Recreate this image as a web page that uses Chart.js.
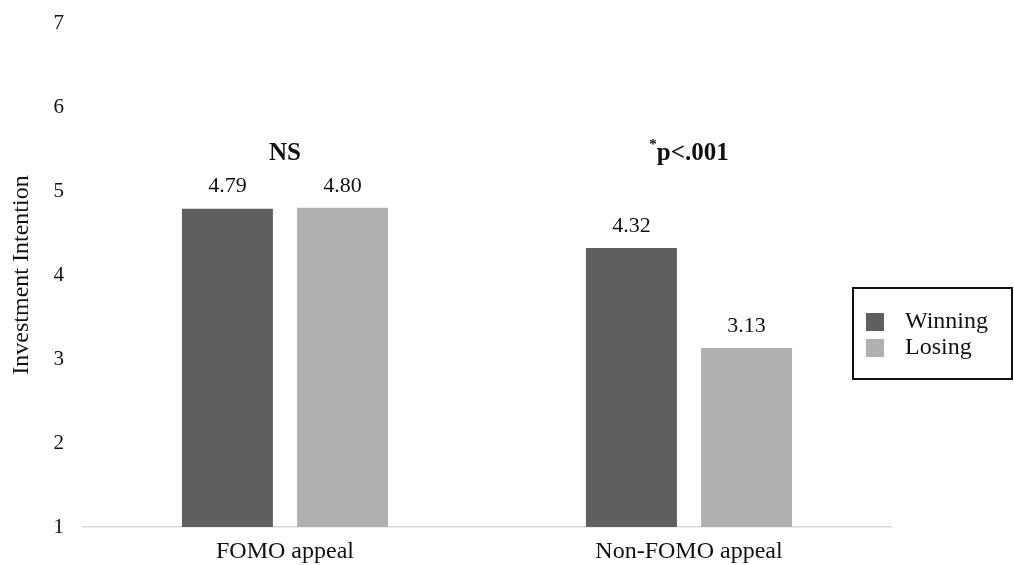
<!DOCTYPE html>
<html>
<head>
<meta charset="utf-8">
<script src="https://cdn.jsdelivr.net/npm/chart.js@4"></script>
<style>
  html, body { margin: 0; padding: 0; background: #fff; }
  #wrap { width: 1014px; height: 565px; position: relative; }
</style>
</head>
<body>
<div id="wrap"><canvas id="graph" width="1014" height="565"></canvas></div>
<script>
// categories and series
var categories = ['FOMO appeal', 'Non-FOMO appeal'];
var winning = [4.79, 4.32];
var losing = [4.80, 3.13];
var seriesNames = ['Winning', 'Losing'];
var significance = ['NS', 'p<.001'];
var sigStar = ['', '*'];
var yTicks = [1, 2, 3, 4, 5, 6, 7];

var SERIF = '"Liberation Serif", "Times New Roman", serif';

// 値ラベル・有意差・凡例を描く
var extras = {
  id: 'extras',
  afterDatasetsDraw: function(chart) {
    var ctx = chart.ctx;
    ctx.save();
    ctx.fillStyle = '#111';
    ctx.textAlign = 'center';
    ctx.textBaseline = 'middle';
    ctx.font = '22px ' + SERIF;
    chart.data.datasets.forEach(function(ds, i) {
      chart.getDatasetMeta(i).data.forEach(function(bar, j) {
        ctx.fillText(ds.data[j].toFixed(2), bar.x, bar.y - 22);
      });
    });

    // significance marks
    var ys = chart.scales.y.getPixelForValue(5.45);
    categories.forEach(function(c, j) {
      var cx = chart.scales.x.getPixelForValue(j);
      ctx.font = 'bold 25px ' + SERIF;
      var w = ctx.measureText(significance[j]).width;
      ctx.font = 'bold 15px ' + SERIF;
      var sw = sigStar[j] ? ctx.measureText(sigStar[j]).width : 0;
      var x0 = cx - (w + sw) / 2;
      ctx.textAlign = 'left';
      ctx.textBaseline = 'middle';
      if (sigStar[j]) ctx.fillText(sigStar[j], x0, ys - 8);
      ctx.font = 'bold 25px ' + SERIF;
      ctx.fillText(significance[j], x0 + sw, ys);
    });

    // legend box
    ctx.lineWidth = 2;
    ctx.strokeStyle = '#111';
    ctx.strokeRect(853, 288, 159, 91);
    ctx.font = '24px ' + SERIF;
    ctx.textAlign = 'left';
    ctx.textBaseline = 'middle';
    chart.data.datasets.forEach(function(ds, i) {
      var y = 313 + i * 26;
      ctx.fillStyle = ds.backgroundColor;
      ctx.fillRect(866, y, 18, 18);
      ctx.fillStyle = '#111';
      ctx.fillText(ds.label, 905, y + 9);
    });
    ctx.restore();
  }
};

window.onload = function() {
  var ctx = document.getElementById('graph').getContext('2d');
  var config = {
    type: 'bar',
    data: {
      labels: categories,
      datasets: [
        { label: seriesNames[0], data: winning, backgroundColor: '#5f5f5f', categoryPercentage: 0.57, barPercentage: 0.79 },
        { label: seriesNames[1], data: losing, backgroundColor: '#b0b0b0', categoryPercentage: 0.57, barPercentage: 0.79 }
      ]
    },
    options: {
      responsive: false,
      animation: false,
      layout: { padding: { top: 23, right: 123, bottom: 0, left: 0 } },
      plugins: { legend: { display: false }, tooltip: { enabled: false } },
      scales: {
        x: {
          grid: { display: false, drawTicks: false },
          border: { display: true, color: '#d9d9d9', width: 1.5 },
          ticks: { color: '#111', padding: 10, font: { family: SERIF, size: 24 } },
          afterFit: function(s) { s.height = 38; s.paddingLeft = 0; s.paddingRight = 0; }
        },
        y: {
          min: 1, max: 7,
          afterBuildTicks: function(s) { s.ticks = yTicks.map(function(v) { return { value: v }; }); },
          grid: { display: false, drawTicks: false },
          border: { display: false },
          ticks: { color: '#111', padding: 19, font: { family: SERIF, size: 21 } },
          title: { display: true, text: 'Investment Intention', color: '#111', padding: 7, font: { family: SERIF, size: 24 } },
          afterFit: function(s) { s.width = 83; s.paddingTop = 0; s.paddingBottom = 0; }
        }
      }
    },
    plugins: [extras]
  };
  new Chart(ctx, config);
};
</script>
</body>
</html>
